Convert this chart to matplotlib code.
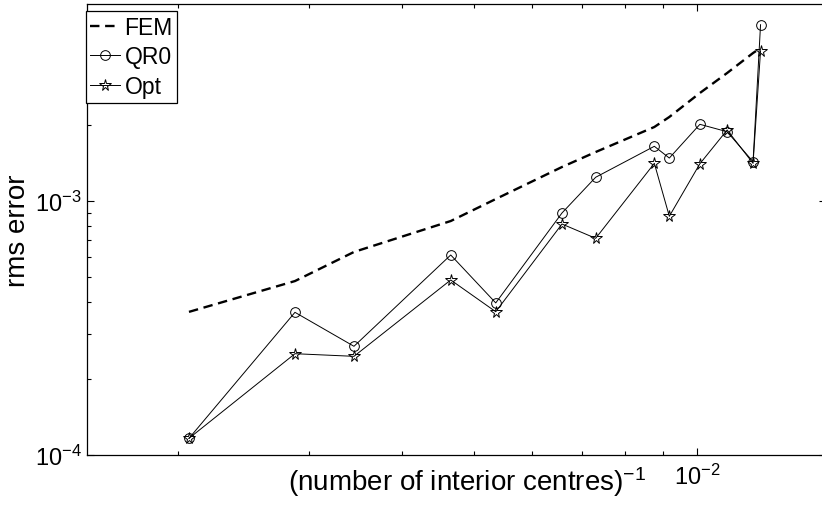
import numpy as np
import matplotlib
matplotlib.use("Agg")
import matplotlib.pyplot as plt
from matplotlib.ticker import LogLocator, NullFormatter

plt.rcParams['font.family'] = ['Liberation Sans', 'DejaVu Sans']
plt.rcParams['mathtext.fontset'] = 'custom'
plt.rcParams['mathtext.rm'] = 'Liberation Sans'
plt.rcParams['mathtext.it'] = 'Liberation Sans'

# DATA
inv_centres = [2.067e-3, 2.872e-3, 3.449e-3, 4.657e-3, 5.355e-3, 6.577e-3, 7.302e-3,
               8.760e-3, 9.177e-3, 1.009e-2, 1.098e-2, 1.190e-2, 1.218e-2]
fem_err = [3.66e-4, 4.84e-4, 6.30e-4, 8.34e-4, 1.018e-3, 1.361e-3, 1.559e-3,
           1.956e-3, 2.142e-3, 2.662e-3, 3.191e-3, 3.825e-3, 4.003e-3]
qr0_err = [1.163e-4, 3.645e-4, 2.679e-4, 6.13e-4, 3.97e-4, 8.97e-4, 1.240e-3,
           1.642e-3, 1.476e-3, 2.004e-3, 1.874e-3, 1.428e-3, 4.944e-3]
opt_err = [1.163e-4, 2.505e-4, 2.446e-4, 4.887e-4, 3.665e-4, 8.117e-4, 7.13e-4,
           1.407e-3, 8.706e-4, 1.402e-3, 1.903e-3, 1.407e-3, 3.905e-3]

W, H = 822, 510
L, R, T, B = 87, 826, 5, 456   # axes box in pixels (right side cut by the image edge)
fig = plt.figure(figsize=(W / 100, H / 100), dpi=100)
ax = fig.add_axes([L / W, (H - B) / H, (R - L) / W, (B - T) / H])

ax.loglog(inv_centres, fem_err, 'k--', lw=1.7, dashes=(4, 2.4), label='FEM')
ax.loglog(inv_centres, qr0_err, 'k-', lw=0.7, marker='o', ms=7, mfc='none',
          mew=0.7, label='QR0')
ax.loglog(inv_centres, opt_err, 'k-', lw=0.7, marker='*', ms=8.5, mfc='none',
          mew=0.7, label='Opt')

ax.set_xlim(10 ** (-2 - 610 / 742), 10 ** (-2 + 129 / 742))
ax.set_ylim(1e-4, 10 ** (-3 + 197 / 254))

ax.xaxis.set_major_locator(LogLocator(base=10))
ax.xaxis.set_minor_locator(LogLocator(base=10, subs=np.arange(2, 10)))
ax.xaxis.set_minor_formatter(NullFormatter())
ax.yaxis.set_minor_formatter(NullFormatter())

ax.tick_params(which='both', direction='in', top=True, right=True, labelsize=17,
               width=0.8)
ax.tick_params(which='major', length=5)
ax.tick_params(which='minor', length=3)
ax.tick_params(axis='x', which='major', pad=6)
ax.tick_params(axis='y', which='major', pad=4)
for s in ax.spines.values():
    s.set_linewidth(0.9)

ax.set_xlabel('(number of interior centres)$^{-1}$', fontsize=20)
ax.xaxis.label.set_va('center')
ax.xaxis.set_label_coords((467.5 - L) / (R - L), -(482 - B) / (B - T))
ax.set_ylabel('rms error', fontsize=20)
ax.yaxis.label.set_va('center')
ax.yaxis.set_label_coords((18 - L) / (R - L), 0.5)

leg = ax.legend(loc='upper left', bbox_to_anchor=(-0.002, 1 - 7 / (B - T)),
                borderaxespad=0, fontsize=16.5, handlelength=1.3,
                handletextpad=0.2, labelspacing=0.3, borderpad=0.2,
                fancybox=False, framealpha=1, edgecolor='k')
leg.get_frame().set_linewidth(0.9)

fig.savefig('out.png', dpi=100)
